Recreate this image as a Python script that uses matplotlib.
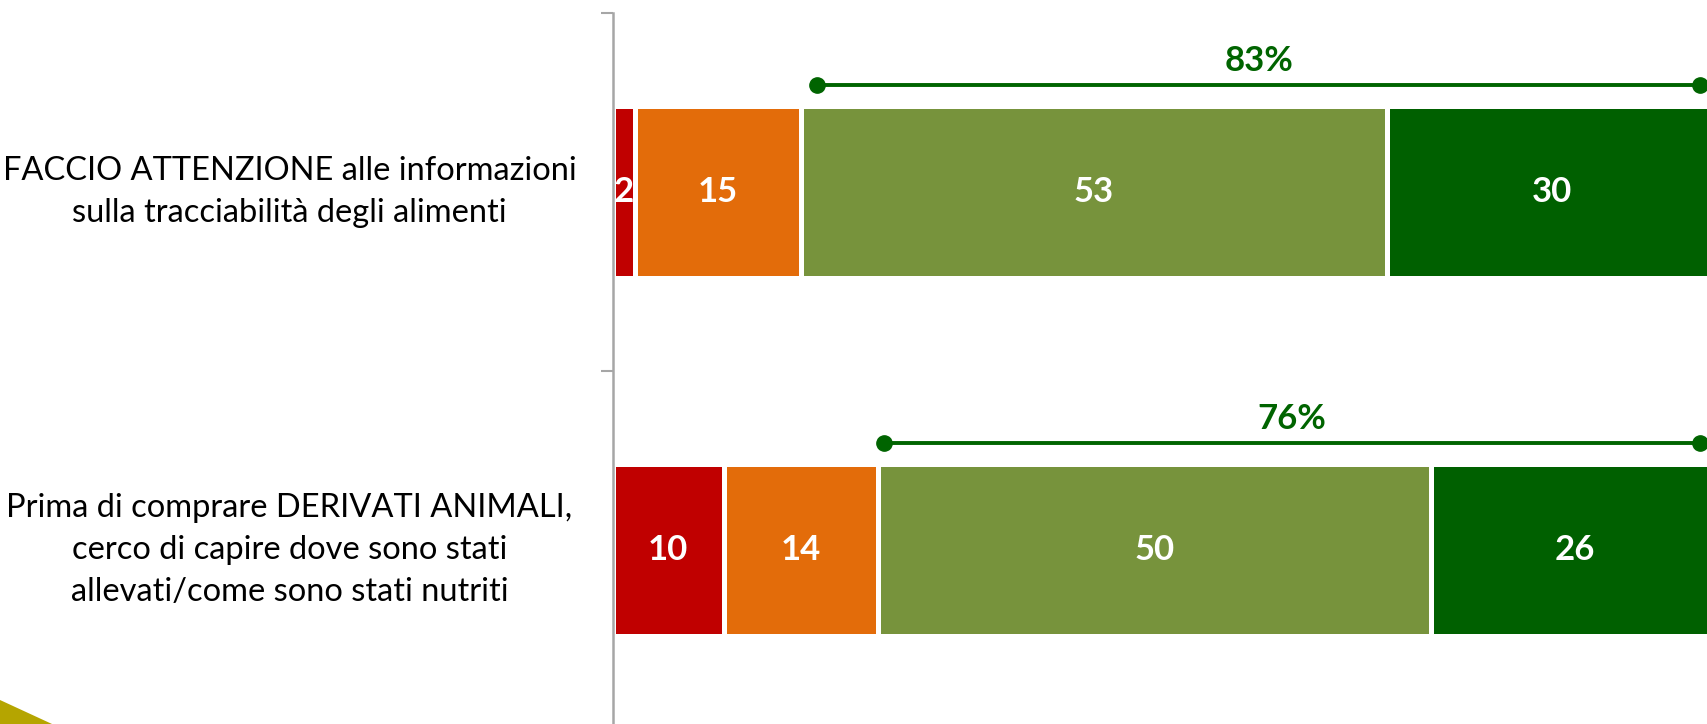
import matplotlib.pyplot as plt
from matplotlib.patches import Polygon

plt.rcParams['font.family'] = ['Lato', 'DejaVu Sans']

statements = [
    "FACCIO ATTENZIONE alle informazioni\nsulla tracciabilità degli alimenti",
    "Prima di comprare DERIVATI ANIMALI,\ncerco di capire dove sono stati\nallevati/come sono stati nutriti",
]
per_niente = [2, 10]
poco = [15, 14]
abbastanza = [53, 50]
molto = [30, 26]
totale_accordo = [83, 76]
bracket_start = [18.5, 24.5]
bracket_end = [98.4, 98.4]

series = [per_niente, poco, abbastanza, molto]
colors = ["#C00000", "#E36C0A", "#77933C", "#006000"]

fig = plt.figure(figsize=(17.07, 7.24), dpi=100)
ax = fig.add_axes([613 / 1707, -5 / 724, 1105 / 1707, 716 / 724])

ypos = list(range(len(statements)))
left = [0] * len(statements)
for vals, col in zip(series, colors):
    bars = ax.barh(ypos, vals, left=left, height=0.48, color=col,
                   edgecolor="white", linewidth=3.6)
    for b, v in zip(bars, vals):
        ax.text(b.get_x() + b.get_width() / 2, b.get_y() + b.get_height() / 2,
                str(v), ha="center", va="center", color="white",
                fontsize=25, fontweight="bold")
    left = [l + v for l, v in zip(left, vals)]

# bracket over the "agree" share
for y, x0, x1, pct in zip(ypos, bracket_start, bracket_end, totale_accordo):
    ax.plot([x0, x1], [y - 0.30, y - 0.30], color="#006400", linewidth=2.8,
            marker="o", markersize=11, clip_on=False)
    ax.text((x0 + x1) / 2, y - 0.32, f"{pct}%", ha="center", va="bottom",
            color="#006400", fontsize=25, fontweight="bold")

ax.set_xlim(0, 100)
ax.set_ylim(1.5, -0.5)
ax.set_yticks(ypos)
ax.set_yticklabels(statements, fontsize=23.5, ha="center", va="center",
                   linespacing=1.5)
ax.tick_params(axis="y", which="major", length=0, pad=233)
ax.set_yticks([-0.5, 0.5, 1.5], minor=True)
ax.tick_params(axis="y", which="minor", length=9, width=1.5, color="#A6A6A6")
ax.set_xticks([])
for s in ["top", "right", "bottom"]:
    ax.spines[s].set_visible(False)
ax.spines["left"].set_color("#A6A6A6")
ax.spines["left"].set_linewidth(1.8)

# corner decoration
fig.patches.append(Polygon([[0, 24 / 724], [52 / 1707, 0], [0, 0]], closed=True,
                           transform=fig.transFigure, facecolor="#B5A500",
                           edgecolor="none"))

fig.savefig("out.png", dpi=100)
